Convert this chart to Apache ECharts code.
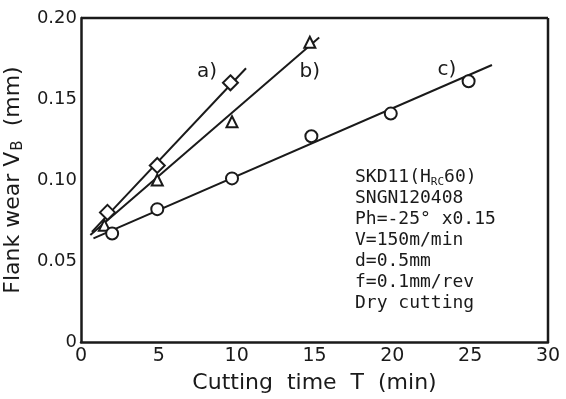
<!DOCTYPE html>
<html>
<head>
<meta charset="UTF-8">
<title>Flank wear</title>
<script src="https://cdn.jsdelivr.net/npm/echarts@6/dist/echarts.min.js"></script>
<style>
  body { margin: 0; padding: 0; background: #fff; }
  #chart { width: 566px; height: 399px; }
</style>
</head>
<body>
<div id="chart"></div>
<script>
// measured points (time T [min], flank wear VB [mm])
const pointsA = [[1.7, 0.080], [4.9, 0.109], [9.6, 0.160]];
const pointsB = [[1.5, 0.072], [4.9, 0.100], [9.7, 0.136], [14.7, 0.185]];
const pointsC = [[2.0, 0.067], [4.9, 0.082], [9.7, 0.101], [14.8, 0.127], [19.9, 0.141], [24.9, 0.161]];
// fitted lines drawn through the points
const lineA = [[0.7, 0.068], [10.6, 0.169]];
const lineB = [[0.6, 0.066], [15.3, 0.188]];
const lineC = [[0.8, 0.064], [26.4, 0.171]];
const curveLabels = [['a)', 8.1, 0.167], ['b)', 14.7, 0.167], ['c)', 23.5, 0.168]];
const yTicks = ['0', '0.05', '0.10', '0.15', '0.20'];
const notes = ['SKD11(H{s|RC}60)', 'SNGN120408', 'Ph=-25° x0.15', 'V=150m/min', 'd=0.5mm', 'f=0.1mm/rev', 'Dry cutting'];

const chart = echarts.init(document.getElementById('chart'));
const ink = '#1a1a1a';
const sans = 'DejaVu Sans';

function fitLine(data) {
  return { type: 'line', data: data, symbol: 'none', lineStyle: { color: ink, width: 2 }, z: 2, silent: true };
}
function marks(data, symbol, size) {
  return {
    type: 'scatter', data: data, symbol: symbol, symbolSize: size, z: 3,
    itemStyle: { color: '#fff', borderColor: ink, borderWidth: 2, opacity: 1 }
  };
}

chart.setOption({
  animation: false,
  grid: { left: 81, right: 18, top: 18, bottom: 57, containLabel: false, outerBoundsMode: 'none' },
  xAxis: {
    type: 'value', min: 0, max: 30, interval: 5,
    axisLine: { lineStyle: { color: ink, width: 2.5 } },
    axisTick: { show: false },
    splitLine: { show: false },
    axisLabel: { color: ink, fontFamily: sans, fontSize: 19, margin: 5 },
    name: 'Cutting  time  T  (min)', nameLocation: 'middle', nameGap: 30,
    nameTextStyle: { color: ink, fontFamily: sans, fontSize: 22 }
  },
  yAxis: {
    type: 'value', min: 0, max: 0.2, interval: 0.05,
    axisLine: { lineStyle: { color: ink, width: 2.5 } },
    axisTick: { show: false },
    splitLine: { show: false },
    axisLabel: {
      color: ink, fontFamily: sans, fontSize: 18, margin: 4,
      formatter: v => yTicks[Math.round(v / 0.05)]
    },
    name: '{a|Flank wear V}{b|B}{a|  (mm)}', nameLocation: 'middle', nameGap: 48,
    nameTextStyle: {
      rich: {
        a: { color: ink, fontFamily: sans, fontSize: 22, lineHeight: 26 },
        b: { color: ink, fontFamily: sans, fontSize: 15, lineHeight: 26, verticalAlign: 'bottom', padding: [8, 0, 0, 1] }
      }
    }
  },
  series: [
    fitLine(lineA), fitLine(lineB), fitLine(lineC),
    marks(pointsA, 'path://M0,-1L1,0L0,1L-1,0Z', 15),
    marks(pointsB, 'triangle', 11),
    marks(pointsC, 'circle', 12),
    {
      type: 'scatter', symbolSize: 0, silent: true, itemStyle: { opacity: 1 },
      data: curveLabels.map(d => ({ value: [d[1], d[2]], name: d[0] })),
      label: { show: true, formatter: p => p.name, color: ink, fontFamily: sans, fontSize: 20, position: 'inside' }
    }
  ],
  graphic: [
    { type: 'line', shape: { x1: 81, y1: 18, x2: 548, y2: 18 }, style: { stroke: ink, lineWidth: 2.5 } },
    { type: 'line', shape: { x1: 548, y1: 18, x2: 548, y2: 342 }, style: { stroke: ink, lineWidth: 2.5 } },
    {
      type: 'text', left: 355, top: 167,
      style: {
        text: notes.join('\n'),
        font: '18px "DejaVu Sans Mono"', fill: ink, lineHeight: 21,
        rich: { s: { fontSize: 11, fontFamily: 'DejaVu Sans Mono', fill: ink, verticalAlign: 'bottom', lineHeight: 21, padding: [6, 0, 0, 0] } }
      }
    }
  ]
});
</script>
</body>
</html>
